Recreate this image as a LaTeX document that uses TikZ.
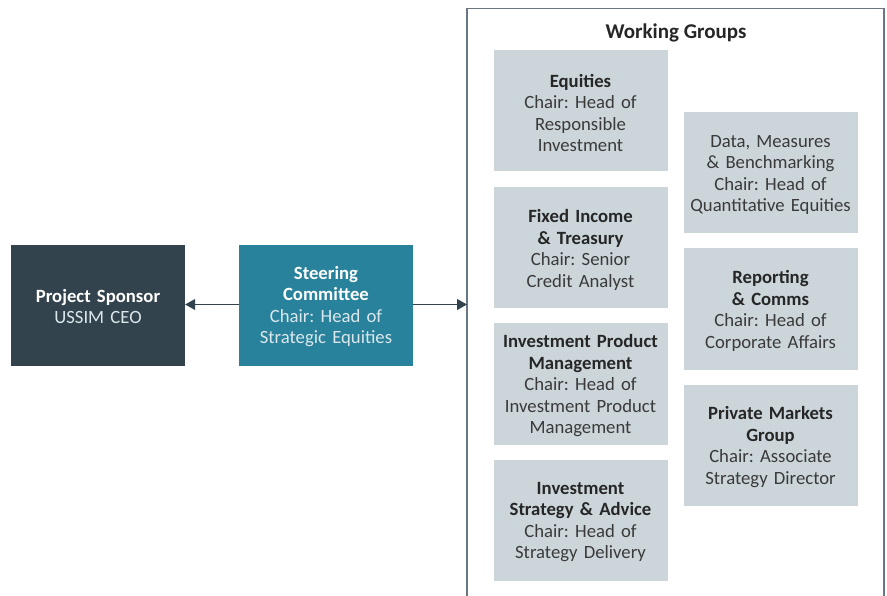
\documentclass[tikz,border=0pt]{standalone}
\usepackage{fontspec}
\setmainfont{Carlito}
\usetikzlibrary{arrows.meta}
\definecolor{sponsor}{HTML}{33434D}
\definecolor{steer}{HTML}{28829C}
\definecolor{wgfill}{HTML}{CBD5DA}
\definecolor{frame}{HTML}{6B7780}
\definecolor{darktxt}{HTML}{262626}
\definecolor{graytxt}{HTML}{3A3A3A}
\definecolor{lighttxt}{HTML}{DCE7EC}
\frenchspacing
\begin{document}
\begin{tikzpicture}[x=1pt,y=-1pt,
  box/.style={minimum width=174pt,minimum height=121pt,inner sep=0pt},
  txt/.style={inner sep=0pt,text width=174pt,align=center,yshift=-2pt,
    font=\fontsize{18.7}{21.5}\selectfont\frenchspacing},
  wgtxt/.style={txt,text=graytxt},
  wg/.style={box,fill=wgfill},
  conn/.style={draw=sponsor,line width=1pt,-{Triangle[length=10pt,width=11pt]}}
]
\useasboundingbox (0,0) rectangle (887,596);
% frame
\draw[frame,line width=1.6pt] (467,610) -- (467,8.5) -- (884,8.5) -- (884,610);
\node[font=\fontsize{21}{25}\selectfont\bfseries,text=darktxt] (title) at (676,33) {Working Groups};
\coordinate (frameL) at (467,304.5);
% main boxes
\node[box,fill=sponsor,label={[txt,text=lighttxt,yshift=1pt]center:{{\bfseries\color{white}Project Sponsor}\\USSIM CEO}}] (sponsor) at (98,305.5) {};
\node[box,fill=steer,label={[txt,text=lighttxt,yshift=1pt]center:{{\bfseries\color{white}Steering\\Committee}\\Chair: Head of\\Strategic Equities}}] (steer) at (326,305.5) {};
\draw[conn] (steer.west |- frameL) -- (sponsor.east |- frameL);
\draw[conn] (steer.east |- frameL) -- (frameL);
% left column
\node[wg,label={[wgtxt]center:{{\bfseries\color{darktxt}Equities}\\Chair: Head of\\Responsible\\Investment}}] (eq) at (580.5,111) {};
\node[wg,label={[wgtxt]center:{{\bfseries\color{darktxt}Fixed Income\\\&~Treasury}\\Chair: Senior\\Credit Analyst}}] (fi) at (580.5,248) {};
\node[wg,label={[wgtxt]center:{{\bfseries\color{darktxt}Investment Product\\Management}\\Chair: Head of\\Investment Product\\Management}}] (ipm) at (580.5,384) {};
\node[wg,label={[wgtxt]center:{{\bfseries\color{darktxt}Investment\\Strategy \& Advice}\\Chair: Head of\\Strategy Delivery}}] (isa) at (580.5,520) {};
% right column
\node[wg,label={[wgtxt]center:{Data, Measures\\\&~Benchmarking\\Chair: Head of\\Quantitative Equities}}] (data) at (770.5,173) {};
\node[wg,label={[wgtxt]center:{{\bfseries\color{darktxt}Reporting\\\&~Comms}\\Chair: Head of\\Corporate Affairs}}] (rep) at (770.5,309) {};
\node[wg,label={[wgtxt]center:{{\bfseries\color{darktxt}Private Markets\\Group}\\Chair: Associate\\Strategy Director}}] (pm) at (770.5,445) {};
\end{tikzpicture}
\end{document}
